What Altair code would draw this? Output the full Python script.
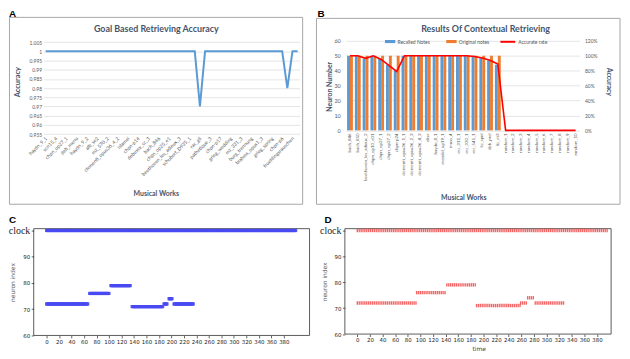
import altair as alt
import pandas as pd

# ---------------- data ----------------
# Panel A: goal based retrieving accuracy (50 works, every other one labelled)
a_labels = ["haydn_9_1", "scn15_4", "chpn_op27_1", "deb_menu", "haydn_9_2", "alb_se2",
            "mz_570_2", "clementi_opus36_4_2", "islamei", "chpn-p14", "debussy_cc_3",
            "bach_846", "chpn_op25_e1", "beethoven_les_adieux_3", "schubert_D935_1",
            "rac_gli", "pathetique_3", "chpn-p17", "grieg_wedding", "mz_331_3",
            "burg_trennung", "brahms_opus1_3", "grieg_spring", "chpn-p6", "fruehlingsrauschen"]
a_index = list(range(50))
a_accuracy = [1, 1, 1, 1, 1, 1, 1, 1, 1, 1,
              1, 1, 1, 1, 1, 1, 1, 1, 1, 1,
              1, 1, 1, 1, 1, 1, 1, 1, 1, 1,
              0.97, 1, 1, 1, 1, 1, 1, 1, 1, 1,
              1, 1, 1, 1, 1, 1, 1, 0.98, 1, 1]
a_ticks = [0.955, 0.96, 0.965, 0.97, 0.975, 0.98, 0.985, 0.99, 0.995, 1.0, 1.005]

# Panel B: contextual retrieving
b_works = ["bach_846", "bach_850", "beethoven_les_adieux_2", "chpn_op10_e01", "chpn_op27_1",
           "chpn_op27_2", "chpn-p24", "clementi_opus36_1_1", "clementi_opus36_2_3",
           "clementi_opus36_4_3", "elise", "haydn_8_1", "mendel_op19_1", "muss_4", "mz_311_1",
           "mz_330_1", "mz_545_1", "liz_spnl", "deb_prel", "liz_et3",
           "random_1", "random_2", "random_3", "random_4", "random_5", "random_6",
           "random_7", "random_8", "random_9", "random_10"]
b_recalled = [50, 50, 48, 50, 48, 44, 40, 50, 50, 50, 50, 50, 50, 50, 50, 50, 50, 49, 47, 44,
              0, 0, 0, 0, 0, 0, 0, 0, 0, 0]
b_original = [50, 50, 50, 50, 50, 50, 50, 50, 50, 50, 50, 50, 50, 50, 50, 50, 50, 50, 50, 50,
              0, 0, 0, 0, 0, 0, 0, 0, 0, 0]
b_rate = [1.0, 1.0, 0.965, 1.0, 0.95, 0.87, 0.79, 1.0, 1.0, 1.0, 1.0, 1.0, 1.0, 1.0, 1.0, 1.0,
          0.99, 0.97, 0.94, 0.89, 0, 0, 0, 0, 0, 0, 0, 0, 0, 0]
b_left_ticks = [0, 10, 20, 30, 40, 50, 60]
b_right_ticks = [0, 0.2, 0.4, 0.6, 0.8, 1.0, 1.2]

# Panels C / D: spike rasters (neuron index, first and last time step of each run)
c_seg_neuron = [72, 76, 79, 71, 72, 74, 72]
c_seg_start = [0, 69, 103, 137, 188, 196, 204]
c_seg_end = [66, 100, 134, 186, 193, 201, 235]
c_clock_end = 399
d_seg_neuron = [72, 76, 79, 71, 72, 74, 72]
d_seg_start = [0, 94, 142, 189, 259, 270, 282]
d_seg_end = [93, 141, 188, 258, 269, 281, 327]
d_clock_end = 397
raster_xticks = [0, 20, 40, 60, 80, 100, 120, 140, 160, 180, 200, 220, 240, 260, 280,
                 300, 320, 340, 360, 380]
raster_yticks = [60, 70, 80, 90, 100]

EXCEL_FONT = "Lato"
TITLE_COLOR = "#44546a"
LABEL_COLOR = "#595959"

# layout extents (pixels around each plot area); identical per row / column
L0, R0 = 45, 270      # left column
L1, R1 = 42, 278      # right column
T1, B1 = 45, 166.5    # top row
T2, B2 = 30.5, 127.3  # bottom row


def one(text):
    return pd.DataFrame({"t": [text]})


def frame(x1, x2, y1, y2):
    return alt.Chart(one("f")).mark_rect(opacity=0).encode(
        x=alt.value(x1), x2=alt.value(x2), y=alt.value(y1), y2=alt.value(y2))


def box(x1, x2, y1, y2, color="#a6a6a6", width=1.0):
    return alt.Chart(one("b")).mark_rect(fillOpacity=0, stroke=color, strokeWidth=width).encode(
        x=alt.value(x1), x2=alt.value(x2), y=alt.value(y1), y2=alt.value(y2))


def label(text, x, y, size, font, color="black", weight="bold", align="left", baseline="top"):
    return alt.Chart(one(text)).mark_text(
        font=font, fontSize=size, fontWeight=weight, color=color, align=align, baseline=baseline
    ).encode(text="t:N", x=alt.value(x), y=alt.value(y))


# ---------------- panel A ----------------
W_A, H_A = 259, 94.3
a_df = pd.DataFrame({"idx": a_index, "acc": a_accuracy})
label_js = "[" + ",".join("'" + s + "'" for s in a_labels) + "]"
a_line = alt.Chart(a_df).mark_line(color="#5b9bd5", strokeWidth=2).encode(
    x=alt.X("idx:Q", scale=alt.Scale(domain=[-0.4, 49.4], nice=False, zero=False),
            axis=alt.Axis(values=a_index[::2], labelExpr=label_js + "[datum.value / 2]",
                          labelAngle=-45, labelAlign="right", labelBaseline="middle",
                          labelFontSize=5, labelFont=EXCEL_FONT, labelColor=LABEL_COLOR,
                          labelPadding=3, ticks=False, domain=False, grid=False, title=None,
                          labelOverlap=False, labelFlush=False)),
    y=alt.Y("acc:Q", scale=alt.Scale(domain=[0.955, 1.0057], nice=False, zero=False),
            axis=alt.Axis(values=a_ticks, labelExpr="format(datum.value, '.3~f')",
                          grid=True, gridColor="#d9d9d9", gridWidth=0.7, ticks=False,
                          domain=False, labelFontSize=5, labelFont=EXCEL_FONT,
                          labelColor=LABEL_COLOR, labelPadding=2, labelOverlap=False,
                          labelFlush=False, title="Accuracy", titleFont=EXCEL_FONT,
                          titleFontSize=7.5, titleFontWeight="bold", titleColor=TITLE_COLOR,
                          titleAngle=-90, titleX=-26, titleY=41.3, titleBaseline="middle")),
)
panel_a = alt.layer(
    frame(-L0, R0, -T1, B1),
    box(-34.5, 262, -23.7, 165.3),
    a_line,
    label("A", -35, -31.8, 10, "Liberation Sans"),
    label("Goal Based Retrieving Accuracy", 114, -11.7, 9, EXCEL_FONT, TITLE_COLOR,
          align="center", baseline="middle"),
    label("Musical Works", 114, 155.3, 7, EXCEL_FONT, TITLE_COLOR, align="center",
          baseline="middle"),
).properties(width=W_A, height=H_A)

# ---------------- panel B ----------------
W_B, H_B = 236, 90.6
n_b = len(b_works)
b_bar_df = pd.DataFrame({
    "work": b_works + b_works,
    "series": ["Recalled Notes"] * n_b + ["Original notes"] * n_b,
    "value": b_recalled + b_original,
})
b_line_df = pd.DataFrame({"work": b_works, "rate": b_rate, "metric": ["Accurate rate"] * n_b})
x_b = alt.X("work:N", sort=b_works, scale=alt.Scale(paddingInner=0.25, paddingOuter=0.12),
            axis=alt.Axis(labelAngle=-90, labelAlign="right", labelBaseline="middle",
                          labelFontSize=4.5, labelPadding=2.5, ticks=False, domain=False,
                          title=None, labelColor=LABEL_COLOR, labelFont=EXCEL_FONT,
                          labelOverlap=False, grid=False))
b_bars = alt.Chart(b_bar_df).mark_bar().encode(
    x=x_b,
    xOffset=alt.XOffset("series:N", sort=["Recalled Notes", "Original notes"]),
    y=alt.Y("value:Q", scale=alt.Scale(domain=[0, 60], nice=False),
            axis=alt.Axis(values=b_left_ticks, grid=True, gridColor="#d9d9d9", gridWidth=0.7,
                          ticks=False, domain=False, labelFontSize=5.5, labelFont=EXCEL_FONT,
                          labelColor=LABEL_COLOR, labelPadding=6, title="Neuron Number",
                          titleFont=EXCEL_FONT, titleFontSize=7, titleFontWeight="bold",
                          titleColor=TITLE_COLOR, titleAngle=-90, titleX=-17, titleY=46,
                          titleBaseline="middle")),
    color=alt.Color("series:N", sort=["Recalled Notes", "Original notes"],
                    scale=alt.Scale(domain=["Recalled Notes", "Original notes"],
                                    range=["#5b9bd5", "#ed7d31"]),
                    legend=alt.Legend(orient="none", legendX=39, legendY=-5,
                                      direction="horizontal", title=None,
                                      symbolType="M-1,-0.3H1V0.3H-1Z", symbolSize=110,
                                      symbolStrokeWidth=0, labelFontSize=5,
                                      labelFont=EXCEL_FONT, labelColor=LABEL_COLOR,
                                      labelOffset=2, columnPadding=16, padding=0)),
)
b_line = alt.Chart(b_line_df).mark_line(strokeWidth=1.6).encode(
    x=x_b,
    y=alt.Y("rate:Q", scale=alt.Scale(domain=[0, 1.2], nice=False),
            axis=alt.Axis(orient="right", values=b_right_ticks, format=".0%", grid=False,
                          ticks=False, domain=False, labelFontSize=5, labelFont=EXCEL_FONT,
                          labelColor=LABEL_COLOR, labelPadding=5, title="Accuracy",
                          titleFont=EXCEL_FONT, titleFontSize=7, titleFontWeight="bold",
                          titleColor=TITLE_COLOR, titleAngle=90, titleX=29, titleY=41,
                          titleBaseline="middle")),
    stroke=alt.Stroke("metric:N", scale=alt.Scale(domain=["Accurate rate"], range=["#ff0000"]),
                      legend=alt.Legend(orient="none", legendX=155, legendY=-7.5, title=None,
                                        symbolType="stroke", symbolSize=225,
                                        symbolStrokeWidth=2, labelFontSize=5,
                                        labelFont=EXCEL_FONT, labelColor=LABEL_COLOR,
                                        labelOffset=2, padding=0)),
)
panel_b = alt.layer(
    frame(-L1, R1, -T1, B1),
    box(-30, 277, -22.7, 165.3),
    b_bars,
    b_line,
    label("B", -29, -31.8, 10, "Liberation Sans"),
    label("Results Of Contextual Retrieving", 141, -11.7, 9, EXCEL_FONT, TITLE_COLOR,
          align="center", baseline="middle"),
    label("Musical Works", 119, 159.3, 7, EXCEL_FONT, TITLE_COLOR, align="center",
          baseline="middle"),
).resolve_scale(y="independent").properties(width=W_B, height=H_B)


# ---------------- panels C / D ----------------
def raster_df(seg_neuron, seg_start, seg_end, clock_end, step):
    rows = []
    for t in range(0, clock_end + 1, step):
        rows.append({"t": t, "n": 100})
    for n, s, e in zip(seg_neuron, seg_start, seg_end):
        for t in range(s, e + 1, step):
            rows.append({"t": t, "n": n})
    return pd.DataFrame(rows)


def raster_chart(df, xdomain, color, shape, size, opacity, xtitle, yoffset, ytitle_x):
    y_axis = alt.Axis(
        values=raster_yticks, offset=yoffset,
        labelExpr="datum.value == 100 ? 'clock' : datum.label",
        labelFont={"condition": {"test": "datum.value == 100", "value": "Liberation Serif"},
                   "value": "DejaVu Sans"},
        labelFontSize={"condition": {"test": "datum.value == 100", "value": 10}, "value": 5.5},
        labelColor="#222", labelPadding=1.5, tickSize=2.5, tickColor="#222", tickWidth=0.7,
        domain=False, grid=False, title="neuron index", titleFont="DejaVu Sans",
        titleFontSize=6, titleFontWeight="normal", titleColor="#555", titleX=ytitle_x,
        titleBaseline="middle", labelOverlap=False, labelFlush=False)
    x_axis = alt.Axis(values=raster_xticks, labelFontSize=5.5, labelFont="DejaVu Sans",
                      labelColor="#222", labelPadding=1.5, tickSize=2.5, tickColor="#222",
                      tickWidth=0.7, domain=False, grid=False, labelOverlap=False,
                      labelFlush=False, title=xtitle, titleFont="DejaVu Sans",
                      titleFontSize=6, titleFontWeight="normal", titleColor="#444",
                      titlePadding=2)
    return alt.Chart(df).mark_point(shape=shape, size=size, filled=True, color=color,
                                    opacity=opacity, strokeWidth=0).encode(
        x=alt.X("t:Q", scale=alt.Scale(domain=xdomain, nice=False, zero=False), axis=x_axis),
        y=alt.Y("n:Q", scale=alt.Scale(domain=[60, 100.7], nice=False, zero=False),
                axis=y_axis),
    )


c_df = raster_df(c_seg_neuron, c_seg_start, c_seg_end, c_clock_end, 1)
d_df = raster_df(d_seg_neuron, d_seg_start, d_seg_end, d_clock_end, 3)

panel_c = alt.layer(
    frame(-L0, R0, -T2, B2),
    box(-10, 269, 0, 108, "#333", 0.8),
    raster_chart(c_df, [-4.75, 421.2], "#4a4af2", "square", 10, 0.85, None, 10, -21),
    label("C", -35, -13.7, 10, "Liberation Sans"),
).properties(width=269, height=108)

panel_d = alt.layer(
    frame(-L1, R1, -T2, B2),
    box(-1.3, 268, 0, 106.6, "#333", 0.8),
    raster_chart(d_df, [-17.7, 402.4], "#f04a4a", "M-0.4,-1H0.4V1H-0.4Z", 12, 0.85, "time",
                 1.3, -20.7),
    label("D", -22, -13.7, 10, "Liberation Sans"),
).properties(width=268, height=106.6)

chart = alt.concat(panel_a, panel_b, panel_c, panel_d, columns=2, spacing=-8,
                   align="none", bounds="full").resolve_legend(
    color="independent", stroke="independent").configure_view(
    stroke="transparent").configure_axis(minExtent=0).properties(
    padding={"left": -10, "top": -14.8, "right": 0, "bottom": 0}, background="white")

chart.save("out.html", embed_options={"renderer": "svg", "actions": False})
